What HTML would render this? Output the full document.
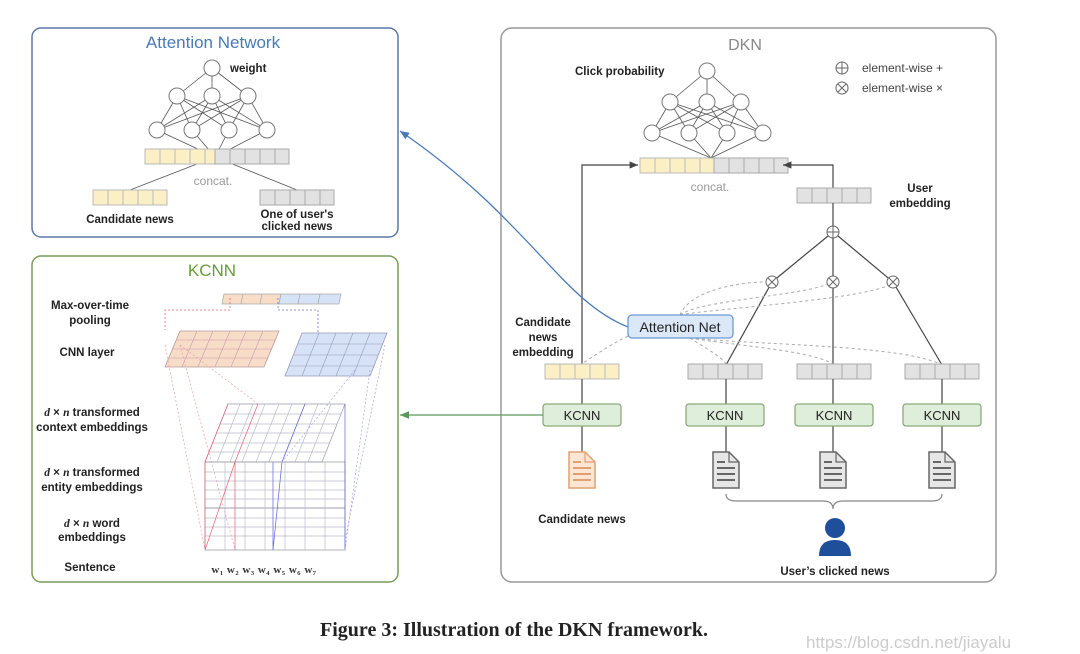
<!DOCTYPE html>
<html><head><meta charset="utf-8"><style>
html,body{margin:0;padding:0;background:#fff;}
svg{display:block;font-family:"Liberation Sans",sans-serif;}
.b{font-weight:bold;font-size:11.5px;fill:#222;}
</style></head><body>
<svg width="1080" height="654" viewBox="0 0 1080 654" xmlns="http://www.w3.org/2000/svg">
<defs>
<marker id="ak" markerWidth="8" markerHeight="8" refX="7" refY="4" orient="auto"><path d="M0,1 L7,4 L0,7 z" fill="#444"/></marker>
<marker id="ab" markerWidth="8" markerHeight="8" refX="7" refY="4" orient="auto"><path d="M0,1 L7,4 L0,7 z" fill="#4a7ab5"/></marker>
<marker id="ag" markerWidth="8" markerHeight="8" refX="7" refY="4" orient="auto"><path d="M0,1 L7,4 L0,7 z" fill="#5a9a5a"/></marker>
<g id="ybar"><rect x="0" y="0" width="74" height="15" fill="#fbefc6" stroke="#bbb"/><path d="M15,0v15M30,0v15M45,0v15M60,0v15" stroke="#bbb"/></g>
<g id="gbar"><rect x="0" y="0" width="74" height="15" fill="#e2e2e2" stroke="#aaa"/><path d="M15,0v15M30,0v15M45,0v15M60,0v15" stroke="#aaa"/></g>
<g id="doc"><path d="M-13,-18 h16 l10,10 v26 h-26 z" stroke-width="1.5"/><path d="M3,-18 v10 h10" fill="none" stroke-width="1.2"/><path d="M-9,-8h8M-9,-2h18M-9,4h18M-9,10h18" stroke-width="2"/></g>
</defs>

<rect x="32" y="28" width="366" height="209" rx="9" fill="#fff" stroke="#5a78a8" stroke-width="1.5"/>
<text x="213" y="48" font-size="17" fill="#4a7ab5" text-anchor="middle">Attention Network</text>
<g stroke="#555" stroke-width="0.8">
<path d="M212,68L177,96M212,68L212,96M212,68L248,96"/>
<path d="M177,96L157,130M177,96L192,130M177,96L229,130M177,96L267,130M212,96L157,130M212,96L192,130M212,96L229,130M212,96L267,130M248,96L157,130M248,96L192,130M248,96L229,130M248,96L267,130"/>
<path d="M157,130L215,157M192,130L215,157M229,130L215,157M267,130L215,157"/>
<path d="M130,190L215,157M297,190L215,157"/>
</g>
<g fill="#fff" stroke="#777" stroke-width="1">
<circle cx="212" cy="68" r="8"/><circle cx="177" cy="96" r="8"/><circle cx="212" cy="96" r="8"/><circle cx="248" cy="96" r="8"/>
<circle cx="157" cy="130" r="8"/><circle cx="192" cy="130" r="8"/><circle cx="229" cy="130" r="8"/><circle cx="267" cy="130" r="8"/>
</g>
<text x="230" y="72" class="b">weight</text>
<use href="#ybar" x="145" y="149"/>
<use href="#gbar" x="215" y="149"/>
<text x="213" y="185" font-size="12" fill="#999" text-anchor="middle">concat.</text>
<use href="#ybar" x="93" y="190"/>
<use href="#gbar" x="260" y="190"/>
<text x="130" y="223" class="b" font-size="10.5" text-anchor="middle">Candidate news</text>
<text x="297" y="218" class="b" font-size="10.5" text-anchor="middle">One of user's</text>
<text x="297" y="230" class="b" font-size="10.5" text-anchor="middle">clicked news</text>

<rect x="32" y="256" width="366" height="326" rx="9" fill="#fff" stroke="#7a9a5a" stroke-width="1.5"/>
<text x="212" y="276" font-size="17" fill="#6a9a3a" text-anchor="middle">KCNN</text>
<g class="b" text-anchor="middle" font-size="11">
<text x="90" y="309">Max-over-time</text><text x="90" y="324">pooling</text>
<text x="87" y="356">CNN layer</text>
<text x="92" y="416"><tspan font-family="Liberation Serif" font-style="italic">d</tspan> × <tspan font-family="Liberation Serif" font-style="italic">n</tspan> transformed</text><text x="92" y="431">context embeddings</text>
<text x="92" y="476"><tspan font-family="Liberation Serif" font-style="italic">d</tspan> × <tspan font-family="Liberation Serif" font-style="italic">n</tspan> transformed</text><text x="92" y="491">entity embeddings</text>
<text x="92" y="527"><tspan font-family="Liberation Serif" font-style="italic">d</tspan> × <tspan font-family="Liberation Serif" font-style="italic">n</tspan> word</text><text x="92" y="541">embeddings</text>
<text x="90" y="571">Sentence</text>
</g>
<path d="M224,294H281L279,304H222Z" fill="#f7dcc8" stroke="#aaa" stroke-width="0.7"/>
<path d="M281,294H341L339,304H279Z" fill="#d6e2f5" stroke="#aaa" stroke-width="0.7"/>
<path d="M243,294l-2,10M262,294l-2,10M300,294l-2,10M320,294l-2,10" stroke="#aaa" stroke-width="0.7"/>
<path d="M180,331H279L264,367H165Z" fill="#f7dcc8" stroke="#b99" stroke-width="0.8"/>
<path d="M176,340H275M172,349H272M169,358H268M197,331l-15,36M213,331l-15,36M230,331l-15,36M246,331l-15,36M263,331l-15,36" stroke="#c9a" stroke-width="0.6"/>
<path d="M302,333H387L370,376H285Z" fill="#d6e2f5" stroke="#99b" stroke-width="0.8"/>
<path d="M298,344H383M294,355H378M289,366H374M319,333l-17,43M336,333l-17,43M353,333l-17,43M370,333l-17,43" stroke="#99b" stroke-width="0.6"/>
<path d="M230,298v12h-65v20" fill="none" stroke="#e07070" stroke-width="0.8" stroke-dasharray="2,2"/>
<path d="M278,298v12h40v24" fill="none" stroke="#7070e0" stroke-width="0.8" stroke-dasharray="2,2"/>
<g fill="none" stroke-width="0.7">
<path d="M228,404H345L322,462H205Z" stroke="#99a"/>
<path d="M205,462H345V508H205Z" stroke="#99a"/>
<path d="M205,508H345V550H205Z" stroke="#99a"/>
<path d="M240,404l-23,58M253,404l-23,58M265,404l-23,58M279,404l-23,58M292,404l-23,58M305,404l-23,58M318,404l-23,58M331,404l-23,58" stroke="#bbc"/>
<path d="M224,414H341M220,424H337M216,433H333M212,443H329M209,452H326" stroke="#bbc"/>
<path d="M205,472H345M205,481H345M205,490H345M205,499H345M205,518H345M205,527H345M205,536H345" stroke="#bbc"/>
<path d="M225,462V550M245,462V550M265,462V550M285,462V550M305,462V550M325,462V550" stroke="#bbc"/>
<path d="M258,404L235,462L205,550M228,404L205,462V550M235,462V550" stroke="#e06070"/>
<path d="M305,404L282,462L273,550M345,404V550M273,462V550" stroke="#6060e0"/>
<path d="M165,345L205,550M180,345L235,550M180,345L258,404" stroke="#e8a0a8" stroke-dasharray="2,2"/>
<path d="M370,370L345,550M355,370L282,462M385,345L345,540" stroke="#a0a0e8" stroke-dasharray="2,2"/>
</g>
<text x="264" y="573" font-size="11" font-family="Liberation Serif" font-weight="bold" fill="#333" text-anchor="middle" letter-spacing="0.5">w₁ w₂ w₃ w₄ w₅ w₆ w₇</text>

<rect x="501" y="28" width="495" height="554" rx="11" fill="#fff" stroke="#999" stroke-width="1.5"/>
<text x="745" y="50" font-size="16" fill="#888" text-anchor="middle">DKN</text>
<text x="575" y="75" class="b">Click probability</text>
<g stroke="#555" stroke-width="0.8">
<path d="M707,71L670,102M707,71L707,102M707,71L741,102"/>
<path d="M670,102L652,133M670,102L689,133M670,102L727,133M670,102L763,133M707,102L652,133M707,102L689,133M707,102L727,133M707,102L763,133M741,102L652,133M741,102L689,133M741,102L727,133M741,102L763,133"/>
<path d="M652,133L711,158M689,133L711,158M727,133L711,158M763,133L711,158"/>
</g>
<g fill="#fff" stroke="#777" stroke-width="1">
<circle cx="707" cy="71" r="8"/><circle cx="670" cy="102" r="8"/><circle cx="707" cy="102" r="8"/><circle cx="741" cy="102" r="8"/>
<circle cx="652" cy="133" r="8"/><circle cx="689" cy="133" r="8"/><circle cx="727" cy="133" r="8"/><circle cx="763" cy="133" r="8"/>
</g>
<use href="#ybar" x="640" y="158"/>
<use href="#gbar" x="714" y="158"/>
<text x="710" y="191" font-size="12" fill="#999" text-anchor="middle">concat.</text>
<g stroke="#666" fill="none" stroke-width="1"><circle cx="842" cy="68" r="6"/><path d="M836,68h12M842,62v12"/><circle cx="842" cy="88" r="6"/><path d="M838,84l8,8M846,84l-8,8"/></g>
<text x="862" y="72" font-size="12" fill="#444">element-wise +</text>
<text x="862" y="92" font-size="12" fill="#444">element-wise ×</text>
<path d="M582,364V165H638" fill="none" stroke="#444" stroke-width="1.2" marker-end="url(#ak)"/>
<path d="M833,188V165H783" fill="none" stroke="#444" stroke-width="1.2" marker-end="url(#ak)"/>
<use href="#gbar" x="797" y="188"/>
<text x="920" y="192" class="b" text-anchor="middle">User</text>
<text x="920" y="207" class="b" text-anchor="middle">embedding</text>
<path d="M833,226V203" stroke="#444" stroke-width="1.2"/>
<g stroke="#444" stroke-width="1.2" fill="none">
<path d="M828,236L772,282M833,238V282M838,236L893,282"/>
<path d="M726,365L772,282M833,365V282M942,365L893,282"/>
</g>
<g fill="none" stroke="#aaa" stroke-width="1" stroke-dasharray="3,3">
<path d="M680,315C690,290 740,282 766,282"/>
<path d="M680,315C700,300 800,296 828,284"/>
<path d="M680,315C700,310 860,300 889,285"/>
<path d="M628,336C610,345 595,355 582,364"/>
<path d="M690,338C700,345 720,355 726,364"/>
<path d="M690,338C730,345 810,350 833,364"/>
<path d="M690,338C760,345 900,345 940,364"/>
</g>
<g fill="#fff" stroke="#666" stroke-width="1">
<circle cx="833" cy="232" r="6"/><circle cx="772" cy="282" r="6"/><circle cx="833" cy="282" r="6"/><circle cx="893" cy="282" r="6"/>
</g>
<path d="M827,232h12M833,226v12M768,278l8,8M776,278l-8,8M829,278l8,8M837,278l-8,8M889,278l8,8M897,278l-8,8" stroke="#666"/>
<path d="M628,327C560,300 530,220 400,131" fill="none" stroke="#4a7ab5" stroke-width="1.3" marker-end="url(#ab)"/>
<rect x="628" y="315" width="105" height="23" rx="4" fill="#dbe8f7" stroke="#6b9bd2" stroke-width="1.3"/>
<text x="680" y="332" font-size="14" fill="#222" text-anchor="middle">Attention Net</text>
<text x="543" y="326" class="b" text-anchor="middle">Candidate</text>
<text x="543" y="341" class="b" text-anchor="middle">news</text>
<text x="543" y="356" class="b" text-anchor="middle">embedding</text>
<use href="#ybar" x="545" y="364"/>
<use href="#gbar" x="688" y="364"/>
<use href="#gbar" x="797" y="364"/>
<use href="#gbar" x="905" y="364"/>
<g stroke="#444" stroke-width="1.2"><path d="M582,404V379M726,404V379M833,404V379M942,404V379M582,452V426M726,452V426M833,452V426M942,452V426"/></g>
<g fill="#dfeeda" stroke="#8aaa7a" stroke-width="1.3">
<rect x="543" y="404" width="78" height="22" rx="3"/><rect x="686" y="404" width="78" height="22" rx="3"/><rect x="795" y="404" width="78" height="22" rx="3"/><rect x="903" y="404" width="78" height="22" rx="3"/>
</g>
<g font-size="13" fill="#222" text-anchor="middle"><text x="582" y="420">KCNN</text><text x="725" y="420">KCNN</text><text x="834" y="420">KCNN</text><text x="942" y="420">KCNN</text></g>
<path d="M543,415H400" stroke="#5a9a5a" stroke-width="1.3" marker-end="url(#ag)"/>
<use href="#doc" x="582" y="470" fill="#fbe6d6" stroke="#e0a070"/>
<use href="#doc" x="726" y="470" fill="#e6e6e6" stroke="#666"/>
<use href="#doc" x="833" y="470" fill="#e6e6e6" stroke="#666"/>
<use href="#doc" x="942" y="470" fill="#e6e6e6" stroke="#666"/>
<path d="M726,494q0,7 10,7H823q10,0 10,8q0,-8 10,-8H932q10,0 10,-7" fill="none" stroke="#888" stroke-width="1.2"/>
<circle cx="835" cy="528" r="10" fill="#1f4e9a"/>
<path d="M819,556q0,-16 16,-16q16,0 16,16z" fill="#1f4e9a"/>
<text x="582" y="523" class="b" font-size="13" text-anchor="middle">Candidate news</text>
<text x="835" y="575" class="b" font-size="13" text-anchor="middle">User’s clicked news</text>

<text x="514" y="636" font-size="20" font-family="Liberation Serif" font-weight="bold" fill="#222" text-anchor="middle">Figure 3: Illustration of the DKN framework.</text>
<text x="806" y="648" font-size="17" fill="#ccc">https://blog.csdn.net/jiayalu</text>
</svg>
</body></html>
